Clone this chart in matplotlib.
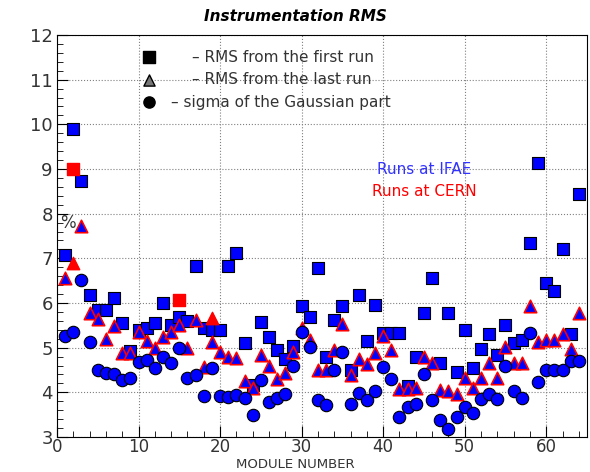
import numpy as np
import matplotlib.pyplot as plt

modules = np.arange(1, 65)

rms_first = [7.07, 9.9, 8.73, 6.18, 5.85, 5.85, 6.12, 5.55, 4.93, 5.4,
             5.45, 5.55, 6.0, 5.5, 5.68, 5.6, 6.83, 5.45, 5.4, 5.4,
             6.83, 7.12, 5.1, 4.16, 5.58, 5.25, 4.95, 4.75, 5.03, 5.93,
             5.68, 6.78, 4.78, 5.62, 5.93, 4.5, 6.18, 5.15, 5.96, 5.32,
             5.32, 5.32, 4.14, 4.8, 5.78, 6.55, 4.65, 5.77, 4.45, 5.4,
             4.55, 4.98, 5.3, 4.83, 5.5, 5.1, 5.17, 7.34, 9.14, 6.44,
             6.27, 7.2, 5.3, 8.43]

rms_last = [6.55, 6.89, 7.72, 5.77, 5.64, 5.19, 5.48, 4.89, 4.89, 5.36,
            5.16, 5.0, 5.25, 5.36, 5.5, 5.0, 5.62, 4.57, 5.13, 4.9,
            4.78, 4.76, 4.25, 4.09, 4.83, 4.6, 4.29, 4.44, 4.9, 5.45,
            5.18, 4.5, 4.51, 4.95, 5.53, 4.39, 4.74, 4.63, 4.87, 5.26,
            4.95, 4.07, 4.07, 4.09, 4.8, 4.66, 4.05, 4.04, 3.96, 4.31,
            4.09, 4.31, 4.65, 4.31, 5.02, 4.66, 4.66, 5.93, 5.12, 5.17,
            5.17, 5.3, 4.98, 5.77]

sigma_gauss = [5.26, 5.36, 6.51, 5.13, 4.5, 4.43, 4.41, 4.28, 4.31, 4.69,
               4.72, 4.54, 4.78, 4.66, 5.0, 4.31, 4.39, 3.92, 4.54, 3.92,
               3.9, 3.94, 3.87, 3.49, 4.28, 3.78, 3.88, 3.96, 4.59, 5.34,
               5.01, 3.83, 3.72, 4.5, 4.91, 3.73, 3.99, 3.83, 4.03, 4.56,
               4.29, 3.44, 3.68, 3.73, 4.41, 3.83, 3.38, 3.17, 3.45, 3.68,
               3.53, 3.85, 3.96, 3.85, 4.6, 4.02, 3.88, 5.32, 4.24, 4.5,
               4.5, 4.5, 4.7, 4.7]

# runs at CERN (red markers)
cern_first_mod = [2, 15]
cern_first = [9.0, 6.07]
cern_last_mod = [2, 19]
cern_last = [6.89, 5.66]

fig = plt.figure(figsize=(5.9, 4.72), dpi=100)
ax = fig.add_axes([57/590, 35/472, 530/590, 402/472])

# blue IFAE
last_mod = [m for m in modules if m not in cern_last_mod] + [19]
last_val = [v for m, v in zip(modules, rms_last) if m not in cern_last_mod] + [rms_last[18]]
ax.scatter(modules, rms_first, marker='s', s=80, c='#0000ff', edgecolors='black', linewidths=0.8, zorder=3)
ax.scatter(last_mod, last_val, marker='^', s=80, c='#0000ff', edgecolors='red', linewidths=1.2, zorder=4)
ax.scatter(modules, sigma_gauss, marker='o', s=80, c='#0000ff', edgecolors='black', linewidths=0.8, zorder=5)
ax.scatter(cern_first_mod, cern_first, marker='s', s=80, c='red', edgecolors='red', zorder=3)
ax.scatter(cern_last_mod, cern_last, marker='^', s=80, c='red', edgecolors='red', zorder=4)

ax.set_xlim(0, 65)
ax.set_ylim(3, 12)
ax.set_xticks(range(0, 61, 10))
ax.set_yticks(range(3, 13))
ax.set_xticks(range(0, 66, 2), minor=True)
ax.set_yticks(np.arange(3, 12.01, 0.2), minor=True)
ax.grid(True, which='major', linestyle=':', color='gray', linewidth=0.8)
ax.tick_params(labelsize=13, direction='in', length=8, colors='black', pad=3)
ax.tick_params(axis='x', labelsize=12, pad=1)
ax.tick_params(which='minor', direction='in', length=4)
for lab in ax.get_xticklabels() + ax.get_yticklabels():
    lab.set_color('#333333')

ax.text(0.4, 7.78, '%', fontsize=12, ha='left', va='center', color='#333333')
fig.text(0.5, 0.003, 'MODULE NUMBER', ha='center', va='bottom', fontsize=9.5, color='#333333')
fig.text(0.5, 0.965, 'Instrumentation RMS', ha='center', va='center', fontsize=11, style='italic', weight='bold')

# legend as drawn
ax.scatter([11.3], [11.5], marker='s', s=65, c='black', zorder=6)
ax.scatter([11.3], [11.0], marker='^', s=65, c='#777777', edgecolors='black', zorder=6)
ax.scatter([11.3], [10.5], marker='o', s=65, c='black', zorder=6)
ax.text(16.5, 11.5, '\u2013 RMS from the first run', va='center', fontsize=11, color='#333333')
ax.text(16.5, 11.0, '\u2013 RMS from the last run', va='center', fontsize=11, color='#333333')
ax.text(14.0, 10.5, '\u2013 sigma of the Gaussian part', va='center', fontsize=11, color='#333333')
ax.text(45, 9.0, 'Runs at IFAE', color='#3333ff', fontsize=11, ha='center', va='center')
ax.text(45, 8.5, 'Runs at CERN', color='red', fontsize=11, ha='center', va='center')

fig.savefig('out.png', dpi=100)
